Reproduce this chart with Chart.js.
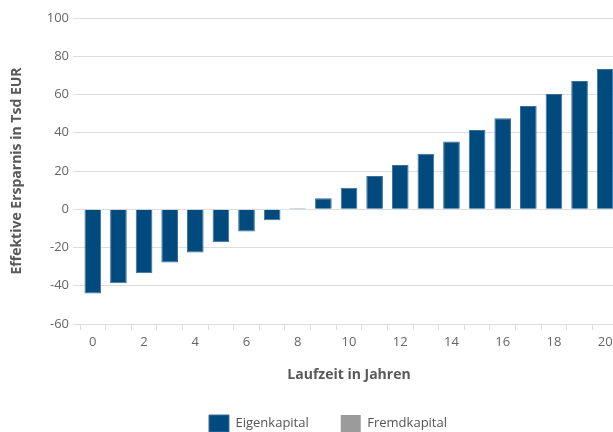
<!DOCTYPE html>
<html>
<head>
<meta charset="utf-8">
<script src="https://cdn.jsdelivr.net/npm/chart.js@4"></script>
<style>
  html, body { margin: 0; padding: 0; overflow: hidden; background: #fff; }
  #wrap { position: absolute; left: 0; top: 0; }
</style>
</head>
<body>
<div id="wrap"><canvas id="chart" width="618" height="442"></canvas></div>
<script>
// Laufzeit (Jahre) and effective savings in thousand EUR
const jahre = [0, 1, 2, 3, 4, 5, 6, 7, 8, 9, 10, 11, 12, 13, 14, 15, 16, 17, 18, 19, 20];
const eigenkapital = [-44.1, -38.7, -33.4, -27.9, -22.6, -17.2, -11.6, -5.7, 0.5, 5.7,
                      11.3, 17.4, 23.1, 29.0, 35.4, 41.4, 47.6, 54.0, 60.3, 67.1, 73.3];
const fremdkapital = [0, 0, 0, 0, 0, 0, 0, 0, 0, 0, 0, 0, 0, 0, 0, 0, 0, 0, 0, 0, 0];
const yTicks = [-60, -40, -20, 0, 20, 40, 60, 80, 100];

const FONT = "'Open Sans', 'DejaVu Sans', sans-serif";
const GRID = '#dedede';

// Nudges the bottom legend a little to the right of the canvas centre
const legendShift = {
  id: 'legendShift',
  afterLayout(chart) {
    const lg = chart.legend;
    if (lg) { lg.left += 19; lg.right += 19; }
  }
};

new Chart(document.getElementById('chart'), {
  type: 'bar',
  plugins: [legendShift],
  data: {
    labels: jahre,
    datasets: [
      {
        label: 'Eigenkapital',
        data: eigenkapital,
        backgroundColor: '#014a7e',
        borderColor: '#3c6f9a',
        borderWidth: 1,
        grouped: false,
        barPercentage: 0.65,
        categoryPercentage: 1
      },
      {
        label: 'Fremdkapital',
        data: fremdkapital,
        backgroundColor: '#9b9b9b',
        borderColor: '#9b9b9b',
        borderWidth: 0,
        grouped: false,
        barPercentage: 0.65,
        categoryPercentage: 1
      }
    ]
  },
  options: {
    responsive: false,
    animation: false,
    layout: { padding: { top: 18, left: 0, right: 0, bottom: 0 } },
    plugins: {
      tooltip: { enabled: false },
      legend: {
        position: 'bottom',
        labels: {
          boxWidth: 20,
          boxHeight: 17,
          padding: 32,
          color: '#555',
          font: { family: FONT, size: 13 }
        }
      }
    },
    scales: {
      x: {
        offset: true,
        grid: {
          display: true,
          offset: true,
          drawOnChartArea: false,
          drawTicks: true,
          tickLength: 6,
          color: GRID
        },
        border: { display: true, color: GRID },
        ticks: {
          color: '#666',
          padding: 4,
          maxRotation: 0,
          autoSkip: false,
          font: { family: FONT, size: 13 },
          callback: function (v, i) {
            return jahre[i] % 2 === 0 ? String(jahre[i]) : '';
          }
        },
        title: {
          display: true,
          text: 'Laufzeit in Jahren',
          color: '#595959',
          font: { family: FONT, size: 14, weight: 'bold' },
          padding: { top: 0, bottom: 0 }
        },
        afterFit: function (scale) { scale.height = 59; }
      },
      y: {
        min: yTicks[0],
        max: yTicks[yTicks.length - 1],
        afterBuildTicks: function (scale) {
          scale.ticks = yTicks.map(v => ({ value: v }));
        },
        grid: {
          color: GRID,
          drawTicks: true,
          tickLength: 7
        },
        border: { display: false },
        ticks: {
          color: '#666',
          padding: 4,
          font: { family: FONT, size: 13 }
        },
        title: {
          display: true,
          text: 'Effektive Ersparnis in Tsd EUR',
          color: '#595959',
          font: { family: FONT, size: 14, weight: 'bold' },
          padding: { top: 9, bottom: 0 }
        },
        afterFit: function (scale) { scale.width = 80; }
      }
    }
  }
});
</script>
</body>
</html>
